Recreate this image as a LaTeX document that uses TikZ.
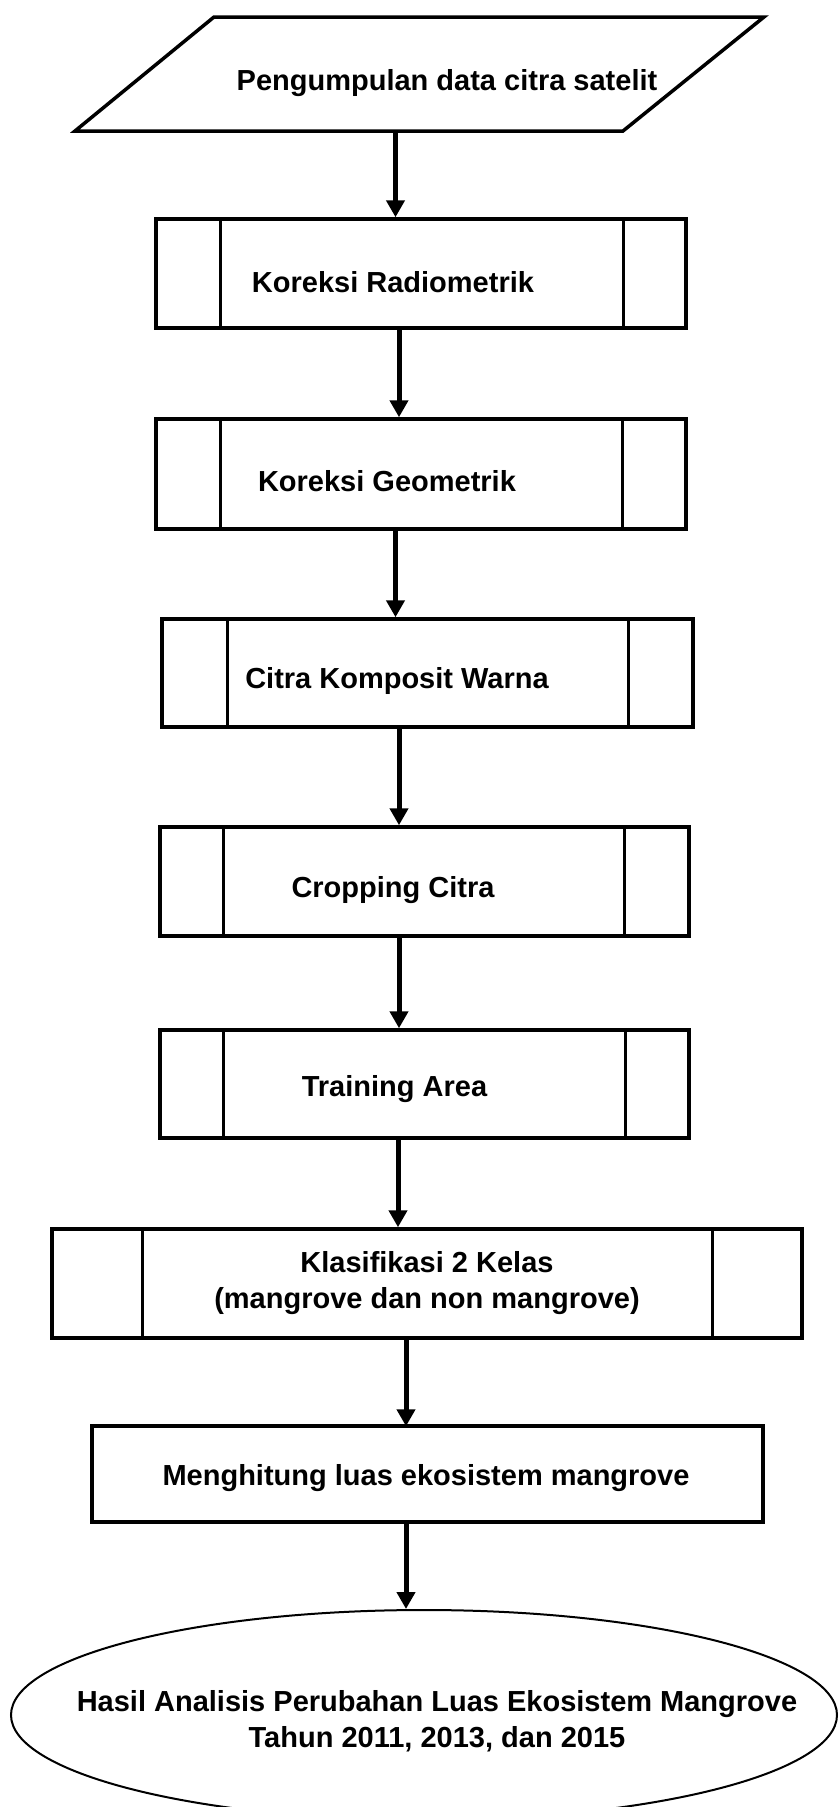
\documentclass[tikz,border=0pt]{standalone}
\usepackage{fontspec}
\setmainfont{Liberation Sans}
\usetikzlibrary{arrows.meta,shapes.geometric}
\begin{document}
\begin{tikzpicture}[x=1pt,y=-1pt,
  box/.style={draw, line width=3.5pt, inner sep=0pt},
  inner/.style={line width=3pt},
  txt/.style={font=\bfseries\fontsize{29}{36}\selectfont, inner sep=0pt, anchor=base},
  txt2/.style={font=\bfseries\fontsize{29}{36}\selectfont, inner sep=0pt, align=center, anchor=center},
  arr/.style={line width=5pt, -{Triangle[width=18pt,length=17pt]}}
]
\useasboundingbox (0,0) rectangle (838,1807);
% parallelogram
\coordinate (pa) at (214,17);
\coordinate (pbb) at (764,17);
\coordinate (pc) at (623,131);
\coordinate (pd) at (75,131);
\draw[line width=3.5pt, line join=miter] (pa) -- (pbb) -- (pc) -- (pd) -- cycle;
\node[txt] (p) at (447,90) {Pengumpulan data citra satelit};
\coordinate (pbot) at (395.5,132);
% boxes
\node[box, minimum width=530pt, minimum height=109pt] (b1) at (421,273.5) {};
\draw[inner] (220,219) -- (220,328) (623,219) -- (623,328);
\node[txt] (t1) at (393,292) {Koreksi Radiometrik};

\node[box, minimum width=530pt, minimum height=110pt] (b2) at (421,474) {};
\draw[inner] (220,419) -- (220,529) (622,419) -- (622,529);
\node[txt] (t2) at (387,491) {Koreksi Geometrik};

\node[box, minimum width=531pt, minimum height=108pt] (b3) at (427.5,673) {};
\draw[inner] (227,619) -- (227,727) (628,619) -- (628,727);
\node[txt] (t3) at (397,688) {Citra Komposit Warna};

\node[box, minimum width=529pt, minimum height=109pt] (b4) at (424.5,881.5) {};
\draw[inner] (223,827) -- (223,936) (624,827) -- (624,936);
\node[txt] (t4) at (393,897) {Cropping Citra};

\node[box, minimum width=529pt, minimum height=108pt] (b5) at (424.5,1084) {};
\draw[inner] (223,1030) -- (223,1138) (625,1030) -- (625,1138);
\node[txt] (t5) at (394.5,1096) {Training Area};

\node[box, minimum width=750pt, minimum height=109pt] (b6) at (427,1283.5) {};
\draw[inner] (142,1229) -- (142,1338) (712,1229) -- (712,1338);
\node[txt2] (t6) at (427,1283) {Klasifikasi 2 Kelas\\(mangrove dan non mangrove)};

\node[box, minimum width=671pt, minimum height=96pt] (b7) at (427.5,1474) {};
\node[txt] (t7) at (426,1485) {Menghitung luas ekosistem mangrove};

\node[ellipse, draw, line width=2pt, inner sep=0pt, minimum width=826pt, minimum height=210pt] (e) at (424,1715) {};
\node[txt2] (t8) at (437,1721) {Hasil Analisis Perubahan Luas Ekosistem Mangrove\\Tahun 2011, 2013, dan 2015};

% arrows
\coordinate (x1) at (395.5,0);
\coordinate (x2) at (399,0);
\coordinate (x3) at (395.5,0);
\coordinate (x4) at (399,0);
\coordinate (x5) at (399,0);
\coordinate (x6) at (398,0);
\coordinate (x7) at (406,0);
\draw[arr] (pbot) -- (b1.north -| x1);
\draw[arr] (b1.south -| x2) -- (b2.north -| x2);
\draw[arr] (b2.south -| x3) -- (b3.north -| x3);
\draw[arr] (b3.south -| x4) -- (b4.north -| x4);
\draw[arr] (b4.south -| x5) -- (b5.north -| x5);
\draw[arr] (b5.south -| x6) -- (b6.north -| x6);
\draw[arr] ([yshift=3pt]b6.south -| x7) -- ([yshift=-2pt]b7.north -| x7);
\draw[arr] (b7.south -| x7) -- (e.north -| x7);
\end{tikzpicture}
\end{document}
